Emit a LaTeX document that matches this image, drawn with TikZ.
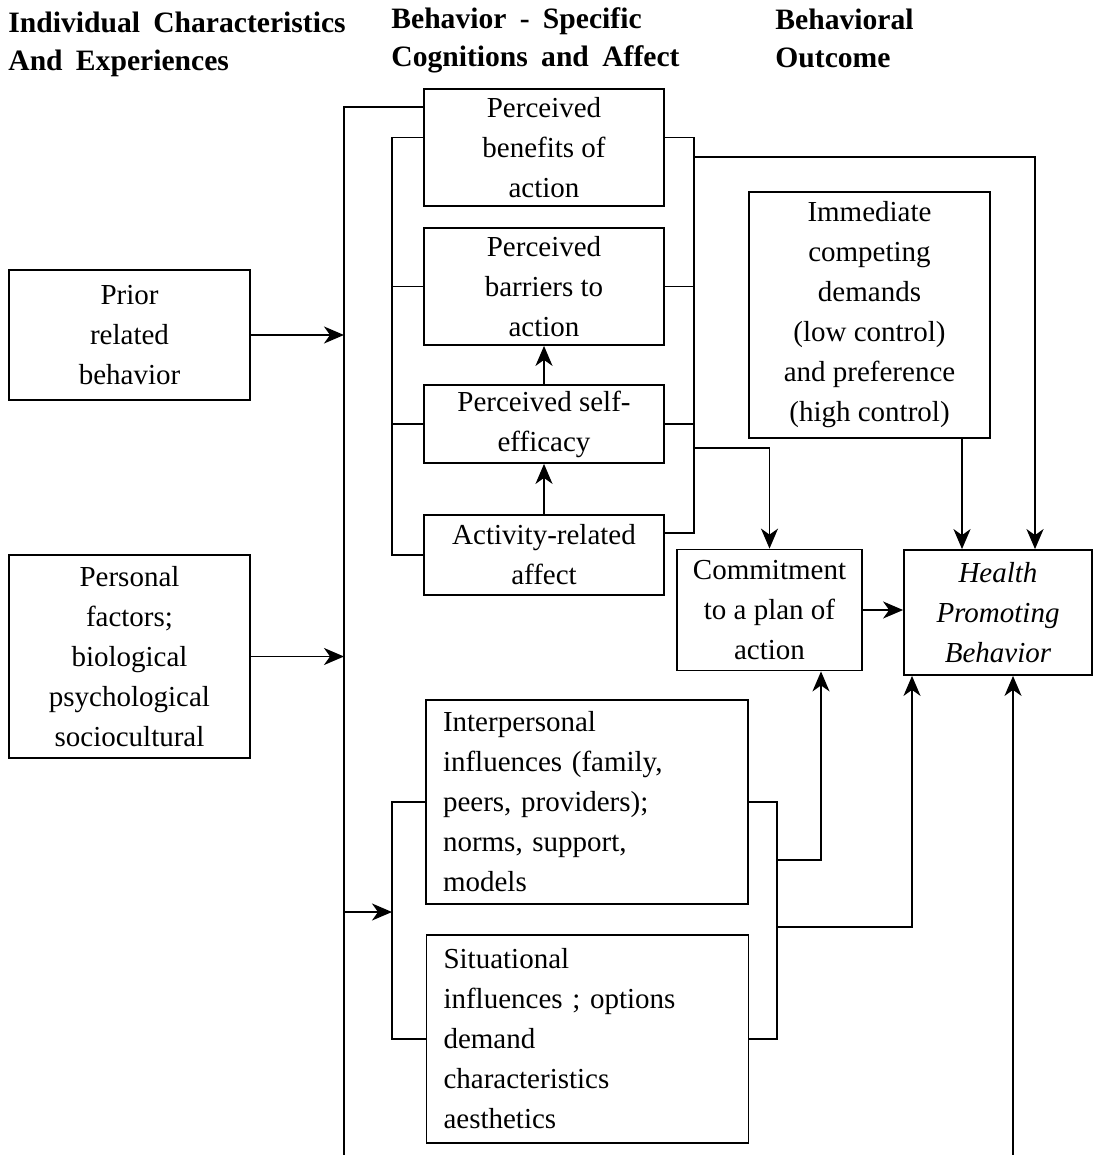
\documentclass[tikz,border=0pt]{standalone}
\usepackage{fontspec}
\setmainfont{Liberation Serif}
\usetikzlibrary{arrows.meta,calc}

\newcommand\headfont{\fontsize{14.8}{19}\selectfont\bfseries\spaceskip=0.45em plus 0.1em minus 0.05em\relax}

\tikzset{
  box/.style={draw, line width=0.9pt, inner sep=0pt, align=center},
  lbox/.style={draw, line width=0.9pt, inner xsep=8.5pt, inner ysep=0pt, align=left, text width=144pt},
  conn/.style={line width=0.9pt},
  arr/.style={conn, -{Stealth[length=10pt,width=8.5pt,inset=3pt]}},
  head/.style={anchor=north west, inner sep=0pt, align=left, font=\headfont}
}

\begin{document}
\begin{tikzpicture}[x=0.5pt, y=-0.5pt, font=\fontsize{14.5}{20}\selectfont]
\useasboundingbox (0,0) rectangle (1100,1155);

\node[head] (hIndiv) at (8,12) {Individual Characteristics\\And Experiences};
\node[head] (hCog) at (391,7) {Behavior - Specific\\Cognitions and Affect};
\node[head] (hOut) at (775,9) {Behavioral\\Outcome};

\node[box, minimum width=120.5pt, minimum height=65pt] (prior) at (129.5,335) {Prior\\related\\behavior};
\node[box, minimum width=120.5pt, minimum height=101.5pt] (personal) at (129.5,656.5) {Personal\\factors;\\biological\\psychological\\sociocultural};

\node[box, minimum width=120pt, minimum height=58.5pt] (benefits) at (544,147.5) {Perceived\\benefits of\\action};
\node[box, minimum width=120pt, minimum height=58.5pt] (barriers) at (544,286.5) {Perceived\\barriers to\\action};
\node[box, minimum width=120pt, minimum height=39pt] (selfeff) at (544,424) {Perceived self-\\efficacy};
\node[box, minimum width=120pt, minimum height=40pt] (affect) at (544,555) {Activity-related\\affect};

\node[box, minimum width=120.5pt, minimum height=123pt] (immediate) at (869.5,315) {Immediate\\competing\\demands\\(low control)\\and preference\\(high control)};
\node[box, minimum width=92.5pt, minimum height=60.5pt] (commit) at (769.5,610) {Commitment\\to a plan of\\action};
\node[box, minimum width=94pt, minimum height=62.5pt, font=\fontsize{14.5}{20}\selectfont\itshape] (health) at (998,612.5) {Health\\Promoting\\Behavior};

\node[lbox, minimum height=102pt] (interp) at (587,802) {Interpersonal\\influences (family,\\peers, providers);\\norms, support,\\models};
\node[lbox, minimum height=104pt] (situ) at (587.5,1039) {Situational\\influences ; options\\demand\\characteristics\\aesthetics};

\coordinate (busTop) at (344,107);
\coordinate (busEnd) at (344,1155);
\coordinate (brL) at (392,0);
\coordinate (upR) at (694,0);
\coordinate (lowR) at (777,0);
\coordinate (fbEnd) at (1013,1155);

\draw[conn] (benefits.west |- busTop) -- (busTop) -- (busEnd);
\draw[arr] (prior.east) -- (prior.east -| busTop);
\draw[arr] (personal.east) -- (personal.east -| busTop);
\draw[arr] (busTop |- 0,912) -- (brL |- 0,912);

\draw[conn] ($(benefits.west)+(0,-10)$) -| (brL |- affect.west) -- (affect.west);
\foreach \b in {barriers,selfeff} {
\draw[conn] (brL |- \b.west) -- (\b.west);
\draw[conn] (\b.east) -- (upR |- \b.east);
}
\draw[conn] ($(benefits.east)+(0,-10)$) -| (upR |- 0,533) -- (affect.east |- 0,533);

\draw[arr] (upR |- 0,157) -| ($(health.north)+(37,0)$);
\draw[arr] (upR |- 0,448) -| (commit.north);
\draw[arr] (immediate.south -| 962,0) -- (health.north -| 962,0);
\draw[arr] (commit.east) -- (commit.east -| health.west);
\draw[arr] (selfeff.north) -- (barriers.south);
\draw[arr] (affect.north) -- (selfeff.south);

\draw[conn] (interp.west) -| (brL |- situ.west) -- (situ.west);
\draw[conn] (interp.east) -| (lowR |- situ.east) -- (situ.east);
\draw[arr] (lowR |- 0,860) -| ($(commit.south)+(51.5,0)$);
\draw[arr] (lowR |- 0,927) -| ($(health.south)+(-86,0)$);
\draw[arr] (fbEnd) -- (fbEnd |- health.south);

\end{tikzpicture}
\end{document}
